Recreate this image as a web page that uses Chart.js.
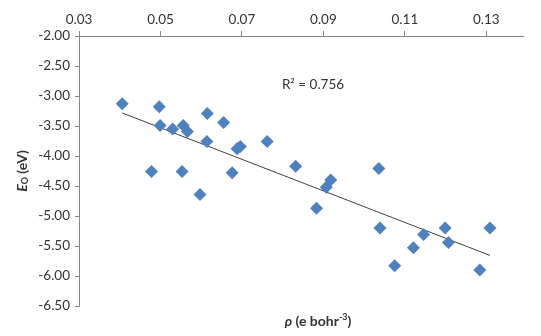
<!DOCTYPE html>
<html>
<head>
<meta charset="utf-8">
<script src="https://cdn.jsdelivr.net/npm/chart.js@4.4.1/dist/chart.umd.min.js"></script>
<style>
  html, body { margin: 0; padding: 0; background: #fff; }
  #wrap { width: 541px; height: 336px; position: relative; }
</style>
</head>
<body>
<div id="wrap"><canvas id="c" width="541" height="336"></canvas></div>
<script>
// ---- data ----
const rho = [0.0406, 0.0497, 0.0499, 0.0530, 0.0556, 0.0566, 0.0615, 0.0655, 0.0614, 0.0688,
             0.0696, 0.0762, 0.0478, 0.0553, 0.0676, 0.0597, 0.0832, 0.0883, 0.1036, 0.0918,
             0.0907, 0.1039, 0.1146, 0.1199, 0.1207, 0.1309, 0.1121, 0.1075, 0.1284];
const e0  = [-3.13, -3.18, -3.49, -3.55, -3.49, -3.59, -3.29, -3.44, -3.76, -3.88,
             -3.84, -3.76, -4.26, -4.26, -4.28, -4.64, -4.17, -4.87, -4.21, -4.40,
             -4.52, -5.20, -5.31, -5.20, -5.44, -5.20, -5.53, -5.83, -5.90];
const xTicks = [0.03, 0.05, 0.07, 0.09, 0.11, 0.13];
const yTicks = [-2.0, -2.5, -3.0, -3.5, -4.0, -4.5, -5.0, -5.5, -6.0, -6.5];
const r2Label = 'R² = 0.756';

// least-squares trend line (derived from the data)
const n = rho.length;
const mx = rho.reduce((a, b) => a + b, 0) / n;
const my = e0.reduce((a, b) => a + b, 0) / n;
let sxy = 0, sxx = 0;
for (let i = 0; i < n; i++) { sxy += (rho[i] - mx) * (e0[i] - my); sxx += (rho[i] - mx) ** 2; }
const slope = sxy / sxx, icpt = my - slope * mx;
const xMin = Math.min(...rho), xMax = Math.max(...rho);
const trend = [{x: xMin, y: icpt + slope * xMin}, {x: xMax, y: icpt + slope * xMax}];

const points = rho.map((x, i) => ({x, y: e0[i]}));

const FONT = 'Lato, "Open Sans", sans-serif';
const axisColor = '#868686';
const textColor = '#333333';

// draws a run of differently styled text pieces, centred at (0,0) of the current transform
function drawRuns(ctx, runs) {
  let total = 0;
  runs.forEach(r => { ctx.font = r.font; r.w = ctx.measureText(r.text).width; total += r.w; });
  let x = -total / 2;
  runs.forEach(r => {
    ctx.font = r.font;
    ctx.fillText(r.text, x, r.dy || 0);
    x += r.w;
  });
}

const textPlugin = {
  id: 'texts',
  afterDatasetsDraw(chart) {
    const {ctx, chartArea} = chart;
    ctx.save();
    ctx.fillStyle = textColor;
    ctx.textAlign = 'left';
    ctx.textBaseline = 'middle';
    // R² label
    ctx.font = '13.5px ' + FONT;
    ctx.textAlign = 'center';
    ctx.fillText(r2Label, chartArea.left + 234, chartArea.top + 48.5);
    ctx.textAlign = 'left';
    // bottom axis title
    ctx.save();
    ctx.translate(chartArea.left + 239, chartArea.bottom + 15);
    drawRuns(ctx, [
      {text: 'ρ', font: 'italic bold 14px ' + FONT},
      {text: ' (e bohr', font: 'bold 14px ' + FONT},
      {text: '-3', font: 'bold 9px ' + FONT, dy: -4},
      {text: ')', font: 'bold 14px ' + FONT}
    ]);
    ctx.restore();
    // left axis title
    ctx.save();
    ctx.translate(chartArea.left - 57, (chartArea.top + chartArea.bottom) / 2);
    ctx.rotate(-Math.PI / 2);
    drawRuns(ctx, [
      {text: 'E', font: 'italic bold 14px ' + FONT},
      {text: 'O', font: 'bold 9px ' + FONT, dy: 3},
      {text: ' (eV)', font: 'bold 14px ' + FONT}
    ]);
    ctx.restore();
    ctx.restore();
  }
};

new Chart(document.getElementById('c'), {
  type: 'scatter',
  data: {
    datasets: [
      {
        label: 'Eo',
        data: points,
        pointStyle: 'rectRot',
        pointRadius: 6.5,
        pointHoverRadius: 6.5,
        backgroundColor: '#4F81BD',
        borderColor: '#4F81BD',
        borderWidth: 0,
        order: 1
      },
      {
        label: 'trend',
        type: 'line',
        data: trend,
        borderColor: '#404040',
        borderWidth: 1,
        pointRadius: 0,
        fill: false,
        order: 2
      }
    ]
  },
  plugins: [textPlugin],
  options: {
    responsive: false,
    animation: false,
    devicePixelRatio: 1,
    layout: { padding: { left: 0, right: 18, top: 0, bottom: 30 } },
    plugins: { legend: { display: false }, tooltip: { enabled: false } },
    scales: {
      x: {
        type: 'linear',
        position: 'top',
        min: 0.03,
        max: 0.139,
        afterBuildTicks(scale) { scale.ticks = xTicks.map(v => ({value: v})); },
        afterFit(scale) { scale.height = 36; },
        ticks: {
          callback: v => Number(v).toFixed(2),
          font: { family: FONT, size: 13.5 },
          color: textColor,
          padding: 3,
          maxRotation: 0,
          autoSkip: false
        },
        grid: { display: true, drawOnChartArea: false, drawTicks: true, tickLength: 5, color: axisColor },
        border: { display: true, color: axisColor, width: 1 }
      },
      y: {
        type: 'linear',
        position: 'left',
        min: -6.5,
        max: -2.0,
        afterBuildTicks(scale) { scale.ticks = yTicks.map(v => ({value: v})); },
        afterFit(scale) { scale.width = 79; },
        ticks: {
          callback: v => Number(v).toFixed(2),
          font: { family: FONT, size: 13.5 },
          color: textColor,
          padding: 5
        },
        grid: { display: true, drawOnChartArea: false, drawTicks: true, tickLength: 4, color: axisColor },
        border: { display: true, color: axisColor, width: 1 }
      }
    }
  }
});
</script>
</body>
</html>
